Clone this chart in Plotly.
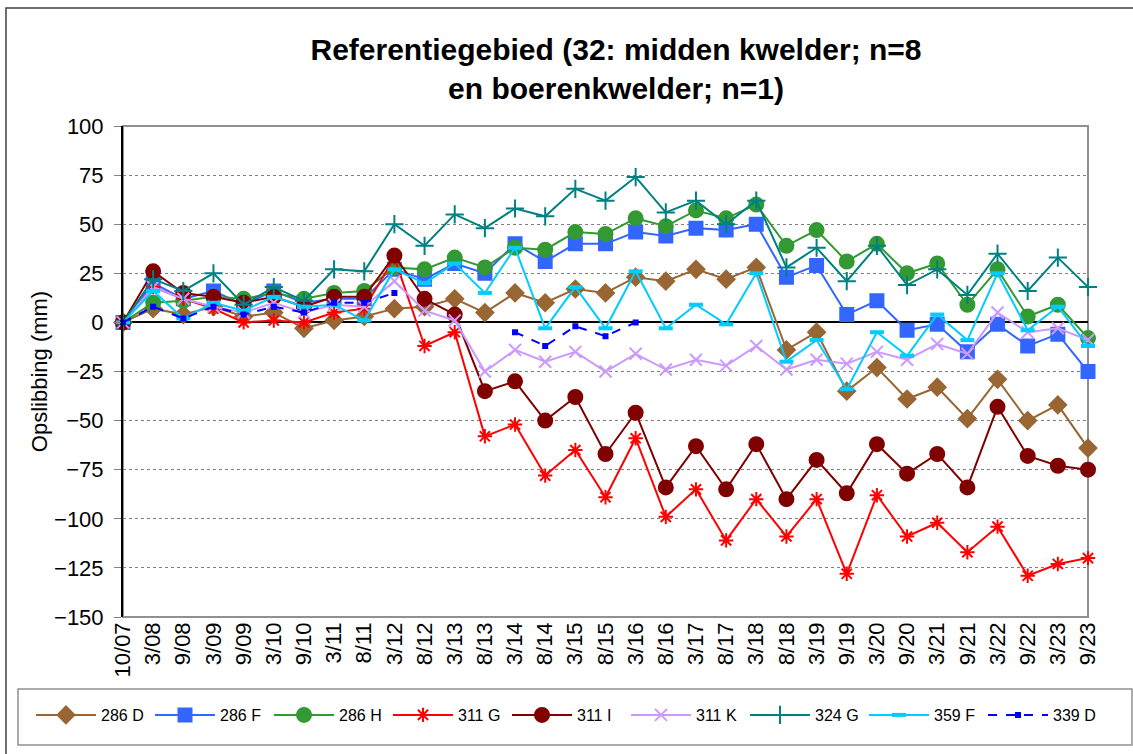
import plotly.graph_objects as go

categories = ["10/07", "3/08", "9/08", "3/09", "9/09", "3/10", "9/10", "3/11", "8/11", "3/12",
              "8/12", "3/13", "8/13", "3/14", "8/14", "3/15", "8/15", "3/16", "8/16", "3/17",
              "8/17", "3/18", "8/18", "3/19", "9/19", "3/20", "9/20", "3/21", "9/21", "3/22",
              "9/22", "3/23", "9/23"]

s286D = [0, 7, 4, 8, 3, 5, -3, 1, 3, 7, 8, 12, 5, 15, 10, 17, 15, 23, 21, 27, 22, 28,
         -14, -5, -35, -23, -39, -33, -49, -29, -50, -42, -64]
s286F = [0, 20, 12, 16, 9, 16, 10, 12, 12, 27, 22, 30, 25, 40, 31, 40, 40, 46, 44, 48, 47, 50,
         23, 29, 4, 11, -4, -1, -15, -1, -12, -6, -25]
s286H = [0, 10, 11, 13, 12, 15, 12, 15, 16, 28, 27, 33, 28, 38, 37, 46, 45, 53, 49, 57, 53, 60,
         39, 47, 31, 40, 25, 30, 9, 27, 3, 9, -8]
s311G = [0, 18, 12, 7, 0, 1, 0, 5, 7, 33, -12, -5, -58, -52, -78, -65, -89, -59, -99, -85, -111, -90,
         -109, -90, -128, -88, -109, -102, -117, -104, -129, -123, -120]
s311I = [0, 26, 15, 13, 10, 13, 8, 13, 13, 34, 12, 4, -35, -30, -50, -38, -67, -46, -84, -63, -85, -62,
         -90, -70, -87, -62, -77, -67, -84, -43, -68, -73, -75]
s311K = [0, 18, 12, 8, 5, 10, 5, 9, 8, 21, 6, 1, -25, -14, -20, -15, -25, -16, -24, -19, -22, -12,
         -24, -19, -21, -15, -19, -11, -16, 5, -5, -3, -9]
s324G = [0, 22, 16, 25, 9, 18, 11, 27, 26, 50, 39, 55, 48, 58, 54, 68, 62, 74, 56, 62, 50, 62,
         28, 38, 21, 39, 19, 27, 14, 35, 16, 33, 18]
s359F = [0, 16, 2, 10, 6, 13, 8, 9, 1, 27, 20, 30, 15, 38, -3, 18, -3, 26, -3, 9, -1, 25,
         -20, -9, -34, -5, -17, 4, -9, 25, -4, 8, -12]
s339D = [0, 8, 2, 8, 4, 8, 5, 10, 10, 15, None, None, None, -5, -12, -2, -7, 0,
         None, None, None, None, None, None, None, None, None, None, None, None, None, None, None]

series_names = ["286 D", "286 F", "286 H", "311 G", "311 I", "311 K", "324 G", "359 F", "339 D"]
series_values = [s286D, s286F, s286H, s311G, s311I, s311K, s324G, s359F, s339D]
colors = ["#996633", "#3366FF", "#339933", "#FF0000", "#800000", "#CC99FF", "#008080", "#00CCFF", "#0000FF"]
symbols = ["diamond", "square", "circle", "asterisk-open", "circle", "x-thin-open",
           "cross-thin-open", "line-ew-open", "square"]
sizes = [13, 13, 14, 12, 14, 12, 13, 10, 4]
dashes = ["solid"] * 8 + ["dash"]

FONT = "Arial, 'Liberation Sans', sans-serif"

fig = go.Figure()
for name, vals, col, sym, sz, dsh in zip(series_names, series_values, colors, symbols, sizes, dashes):
    mline = dict(color=col, width=2)
    if sym == "line-ew-open":
        mline = dict(color=col, width=4)
    fig.add_trace(go.Scatter(
        x=categories, y=vals, name=name, mode="lines+markers",
        line=dict(color=col, width=2, dash=dsh),
        marker=dict(symbol=sym, size=sz, color=col, line=mline),
        connectgaps=False, cliponaxis=False,
    ))

W, H = 1133, 754
ml, mr, mt, mb = 123, 45, 126, 137
pw, ph = W - ml - mr, H - mt - mb


def px_x(x):
    return (x - ml) / pw


def px_y(y):
    return (H - mb - y) / ph


fig.update_layout(
    width=W, height=H,
    margin=dict(l=ml, r=mr, t=mt, b=mb, autoexpand=False),
    paper_bgcolor="white", plot_bgcolor="white",
    font=dict(family=FONT, color="black"),
    title=dict(text="<b>Referentiegebied (32: midden kwelder; n=8<br>en boerenkwelder; n=1)</b>",
               font=dict(size=30, family=FONT, color="black"),
               x=px_x(616), xref="paper", xanchor="center",
               y=1 - 60 / H, yref="container", yanchor="top"),
    showlegend=True,
    legend=dict(orientation="h", x=px_x(31), xanchor="left",
                y=px_y(698), yanchor="top",
                font=dict(size=16, family=FONT, color="black"),
                borderwidth=0, bgcolor="rgba(0,0,0,0)",
                itemwidth=60, entrywidth=44, traceorder="normal"),
    xaxis=dict(type="category", categoryorder="array", categoryarray=categories,
               range=[0, len(categories) - 1], showgrid=False, zeroline=False,
               showline=False, ticks="", tickangle=-90,
               tickfont=dict(size=22, family=FONT, color="black"),
               automargin=False),
    xaxis2=dict(overlaying="x", anchor="free", position=150 / 250, type="linear",
                range=[0, len(categories) - 1], tick0=0, dtick=1, ticks="outside",
                ticklen=6, tickcolor="#808080", tickwidth=1, showticklabels=False,
                showgrid=False, zeroline=False, showline=False),
    yaxis=dict(range=[-150, 100], dtick=25, tick0=0, showgrid=True, gridcolor="#808080",
               griddash="dot", gridwidth=1, zeroline=True, zerolinecolor="black",
               zerolinewidth=2, showline=True, linecolor="black", linewidth=2,
               ticks="outside", ticklen=7, tickcolor="#808080", ticklabelstandoff=6,
               tickfont=dict(size=22, family=FONT, color="black"),
               title=dict(text="Opslibbing (mm)", font=dict(size=22, family=FONT, color="black"),
                          standoff=0),
               automargin=False),
    shapes=[
        dict(type="rect", xref="paper", yref="paper", x0=0, x1=1, y0=0, y1=1,
             line=dict(color="#909090", width=2), layer="below"),
        dict(type="rect", xref="paper", yref="paper",
             x0=px_x(6), x1=px_x(1145), y0=px_y(765), y1=px_y(8),
             line=dict(color="#404040", width=1.5), layer="below"),
        dict(type="rect", xref="paper", yref="paper",
             x0=px_x(18), x1=px_x(1132), y0=px_y(745), y1=px_y(689),
             line=dict(color="#909090", width=1.5), fillcolor="white", layer="below"),
    ],
)

fig.write_html("out.html", config={"displayModeBar": False},
               post_script="document.body.style.margin='0';")
